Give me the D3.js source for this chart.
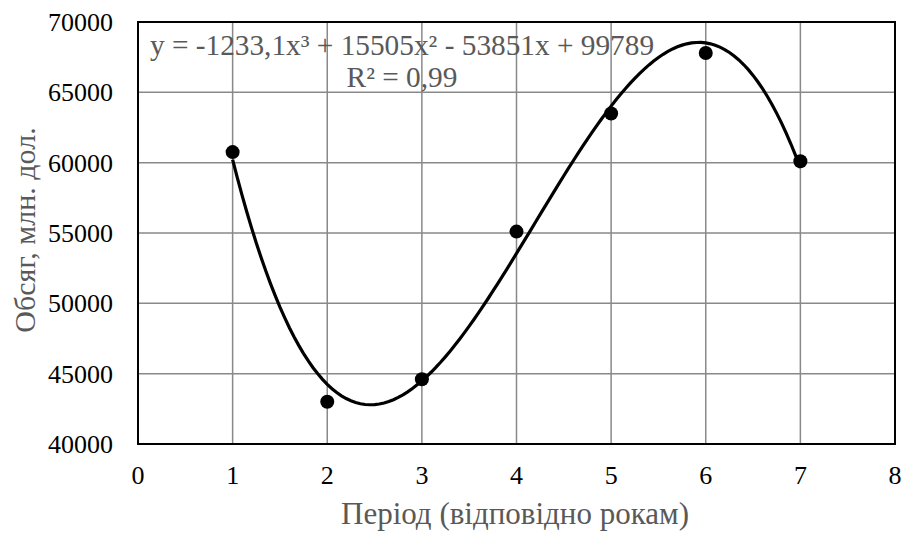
<!DOCTYPE html>
<html>
<head>
<meta charset="utf-8">
<script src="https://cdn.jsdelivr.net/npm/d3@7"></script>
<style>
	body { margin: 0; background: #fff; }
	svg text { font-family: 'Liberation Serif', 'Times New Roman', serif; }
	.gridline line { stroke: #898989; stroke-width: 1.5; }
	.tick-label { font-size: 26px; fill: #000; }
	.axis-title { fill: #595959; }
	.equation { font-size: 29.3px; fill: #595959; }
</style>
</head>
<body>
<div id="chart"></div>
<script>
// data
const periods = [1, 2, 3, 4, 5, 6, 7];
const turnover = [60750, 43000, 44600, 55100, 63500, 67800, 60100];
// trendline coefficients as printed on the chart (x^3, x^2, x, const)
const trendCoef = [-1233.1, 15505, -53851, 99789];
const xTicks = [0, 1, 2, 3, 4, 5, 6, 7, 8];
const yTicks = [40000, 45000, 50000, 55000, 60000, 65000, 70000];
const eqLine1 = 'y = -1233,1x³ + 15505x² - 53851x + 99789';
const eqLine2 = 'R² = 0,99';
const xTitle = 'Період (відповідно рокам)';
const yTitle = 'Обсяг, млн. дол.';

const width = 904, height = 533;
const margin = { top: 22, right: 9, bottom: 89, left: 138 };

const svg = d3.select('#chart')
	.append('svg')
	.attr('width', width)
	.attr('height', height);

const x = d3.scaleLinear()
	.domain([0, 8])
	.range([margin.left, width - margin.right]);

const y = d3.scaleLinear()
	.domain([40000, 70000])
	.range([height - margin.bottom, margin.top]);

// gridlines
svg.append('g')
	.attr('class', 'gridline')
	.selectAll('line.v')
	.data(xTicks.slice(1, -1))
	.join('line')
	.attr('x1', d => x(d)).attr('x2', d => x(d))
	.attr('y1', y(40000)).attr('y2', y(70000));

svg.append('g')
	.attr('class', 'gridline')
	.selectAll('line.h')
	.data(yTicks.slice(1, -1))
	.join('line')
	.attr('x1', x(0)).attr('x2', x(8))
	.attr('y1', d => y(d)).attr('y2', d => y(d));

// plot frame
svg.append('rect')
	.attr('x', x(0))
	.attr('y', y(70000))
	.attr('width', x(8) - x(0))
	.attr('height', y(40000) - y(70000))
	.attr('fill', 'none')
	.attr('stroke', '#000')
	.attr('stroke-width', 2);

// tick labels
svg.append('g')
	.selectAll('text')
	.data(xTicks)
	.join('text')
	.attr('class', 'tick-label')
	.attr('x', d => x(d))
	.attr('y', 484)
	.attr('text-anchor', 'middle')
	.text(d => d);

svg.append('g')
	.selectAll('text')
	.data(yTicks)
	.join('text')
	.attr('class', 'tick-label')
	.attr('x', 113)
	.attr('y', d => y(d) + 9)
	.attr('text-anchor', 'end')
	.text(d => d);

// trendline, evaluated from the printed equation
const poly = t => trendCoef[0] * t ** 3 + trendCoef[1] * t ** 2 + trendCoef[2] * t + trendCoef[3];
const curve = d3.range(periods[0], periods[periods.length - 1] + 0.001, 0.05).map(t => [t, poly(t)]);

svg.append('path')
	.datum(curve)
	.attr('fill', 'none')
	.attr('stroke', '#000')
	.attr('stroke-width', 3.2)
	.attr('d', d3.line().x(d => x(d[0])).y(d => y(d[1])));

// points
svg.append('g')
	.selectAll('circle')
	.data(periods)
	.join('circle')
	.attr('cx', d => x(d))
	.attr('cy', (d, i) => y(turnover[i]))
	.attr('r', 7)
	.attr('fill', '#000');

// equation label
const eq = svg.append('text')
	.attr('class', 'equation')
	.attr('text-anchor', 'middle');
eq.append('tspan').attr('x', 402).attr('y', 55).text(eqLine1);
eq.append('tspan').attr('x', 402).attr('y', 87).text(eqLine2);

// axis titles
svg.append('text')
	.attr('class', 'axis-title')
	.style('font-size', '31px')
	.attr('x', 515)
	.attr('y', 524)
	.attr('text-anchor', 'middle')
	.text(xTitle);

svg.append('text')
	.attr('class', 'axis-title')
	.style('font-size', '30px')
	.attr('transform', 'translate(35,230) rotate(-90)')
	.attr('text-anchor', 'middle')
	.text(yTitle);
</script>
</body>
</html>
